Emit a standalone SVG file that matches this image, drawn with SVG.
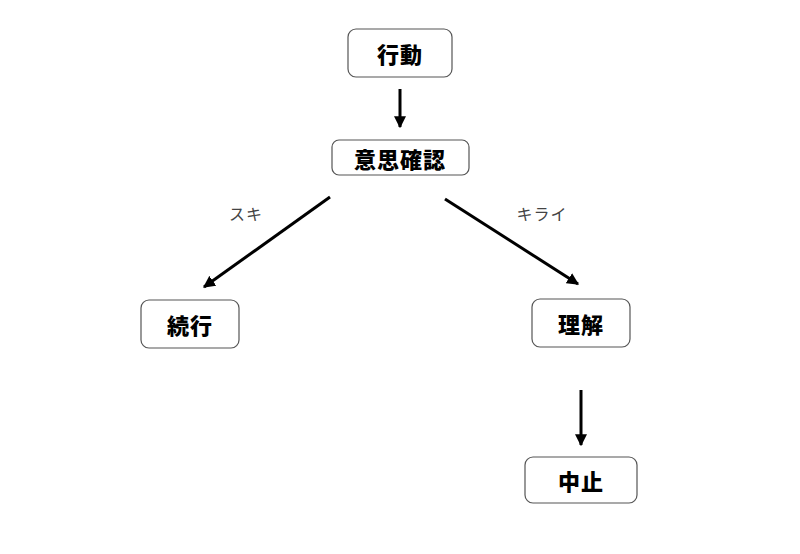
<svg xmlns="http://www.w3.org/2000/svg" width="800" height="554" viewBox="0 0 800 554">
<defs>
<marker id="ah" viewBox="0 0 10 10" refX="9" refY="5" markerWidth="4" markerHeight="4" orient="auto" markerUnits="strokeWidth">
<path d="M0,0 L10,5 L0,10 z" fill="#000"/>
</marker>
<style>
.box{fill:#fff;stroke:#555;stroke-width:1.2}
.t{font-family:"Noto Sans CJK JP","Noto Sans CJK SC",sans-serif;font-weight:900;font-size:22px;letter-spacing:1px;fill:#000;text-anchor:middle;dominant-baseline:central}
.lbl{font-family:"Noto Sans CJK JP","Noto Sans CJK SC",sans-serif;font-size:16px;letter-spacing:1px;fill:#444;text-anchor:middle;dominant-baseline:central}
.c{stroke:#000;stroke-width:3;fill:none;marker-end:url(#ah)}
</style>
</defs>
<rect width="800" height="554" fill="#fff"/>
<g id="n-koudou"><rect class="box" x="348" y="29" width="104" height="48" rx="8"/><text class="t" x="400" y="53">行動</text></g>
<g id="n-ishi"><rect class="box" x="332" y="140" width="137" height="35" rx="7"/><text class="t" x="400" y="158">意思確認</text></g>
<g id="n-zokkou"><rect class="box" x="141" y="300" width="98" height="48" rx="8"/><text class="t" x="190" y="324">続行</text></g>
<g id="n-rikai"><rect class="box" x="532" y="299" width="98" height="48" rx="8"/><text class="t" x="581" y="323">理解</text></g>
<g id="n-chushi"><rect class="box" x="525" y="457" width="112" height="46" rx="8"/><text class="t" x="581" y="480">中止</text></g>
<g id="connectors">
<line class="c" x1="400" y1="89" x2="400" y2="127"/>
<line class="c" x1="330" y1="197" x2="204" y2="287"/>
<line class="c" x1="445" y1="199" x2="578" y2="284"/>
<line class="c" x1="581" y1="390" x2="581" y2="445"/>
<text class="lbl" x="246" y="213">スキ</text>
<text class="lbl" x="542" y="213">キライ</text>
</g>
</svg>
